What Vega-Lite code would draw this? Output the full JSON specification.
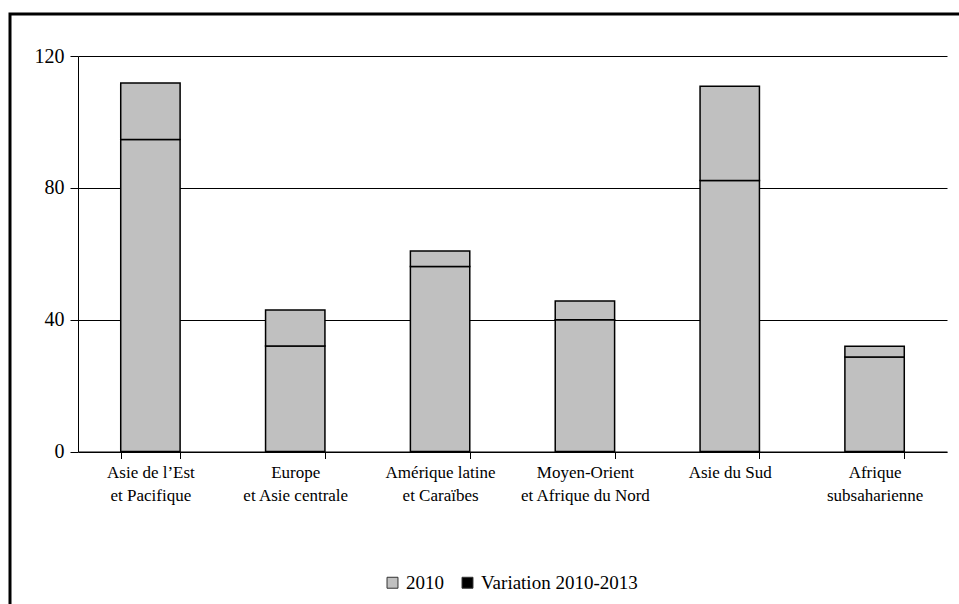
{
  "$schema": "https://vega.github.io/schema/vega-lite/v6.json",
  "autosize": "none",
  "padding": {"left": 10, "top": 14, "right": -3, "bottom": -3},
  "width": 952,
  "height": 593,
  "background": "#ffffff",
  "config": {
    "view": {"stroke": "#000000", "strokeWidth": 3},
    "font": "Times New Roman, Liberation Serif, DejaVu Serif, serif",
    "axis": {
      "domainColor": "#000000",
      "domainWidth": 1,
      "tickColor": "#000000",
      "tickWidth": 1,
      "gridColor": "#000000",
      "gridWidth": 1,
      "gridOpacity": 1,
      "labelColor": "#000000",
      "labelFont": "Times New Roman, Liberation Serif, DejaVu Serif, serif",
      "title": null
    },
    "legend": {
      "labelFont": "Times New Roman, Liberation Serif, DejaVu Serif, serif"
    }
  },
  "data": {
    "values": [
      {"region": "Asie de l’Est\net Pacifique", "serie": "2010", "valeur": 94.7},
      {"region": "Asie de l’Est\net Pacifique", "serie": "Variation 2010-2013", "valeur": 17.1},
      {"region": "Europe\net Asie centrale", "serie": "2010", "valeur": 32.0},
      {"region": "Europe\net Asie centrale", "serie": "Variation 2010-2013", "valeur": 10.9},
      {"region": "Amérique latine\net Caraïbes", "serie": "2010", "valeur": 56.1},
      {"region": "Amérique latine\net Caraïbes", "serie": "Variation 2010-2013", "valeur": 4.7},
      {"region": "Moyen-Orient\net Afrique du Nord", "serie": "2010", "valeur": 40.0},
      {"region": "Moyen-Orient\net Afrique du Nord", "serie": "Variation 2010-2013", "valeur": 5.7},
      {"region": "Asie du Sud", "serie": "2010", "valeur": 82.2},
      {"region": "Asie du Sud", "serie": "Variation 2010-2013", "valeur": 28.6},
      {"region": "Afrique\nsubsaharienne", "serie": "2010", "valeur": 28.7},
      {"region": "Afrique\nsubsaharienne", "serie": "Variation 2010-2013", "valeur": 3.2}
    ]
  },
  "encoding": {
    "x": {
      "field": "region",
      "type": "nominal",
      "sort": null,
      "scale": {"range": [68, 937], "paddingInner": 0.59, "paddingOuter": 0.295},
      "axis": {
        "orient": "bottom",
        "offset": -155.5,
        "tickBand": "extent",
        "tickSize": 7,
        "labelAngle": 0,
        "labelPadding": 6,
        "labelFontSize": 17,
        "labelLineHeight": 23,
        "labelBaseline": "top",
        "labelExpr": "datum.value ? split(datum.value, '\\n') : ''",
        "grid": false
      }
    },
    "y": {
      "field": "valeur",
      "type": "quantitative",
      "scale": {"domain": [0, 120], "range": [437.5, 42], "nice": false},
      "axis": {
        "orient": "left",
        "offset": -68,
        "values": [0, 40, 80, 120],
        "tickSize": 8,
        "labelPadding": 6,
        "labelFontSize": 20,
        "labelDy": 4,
        "grid": true
      }
    }
  },
  "layer": [
    {
      "mark": {"type": "bar", "fill": "#c0c0c0", "stroke": "#000000", "strokeWidth": 1.5},
      "encoding": {
        "detail": {"field": "serie"},
        "order": {"field": "serie", "sort": "ascending"}
      }
    },
    {
      "mark": {"type": "square", "filled": true, "opacity": 0},
      "encoding": {
        "color": {
          "field": "serie",
          "type": "nominal",
          "scale": {"domain": ["2010", "Variation 2010-2013"], "range": ["#c0c0c0", "#000000"]},
          "legend": {
            "title": null,
            "orient": "none",
            "direction": "horizontal",
            "legendX": 373,
            "legendY": 559,
            "symbolType": "square",
            "symbolSize": 120,
            "symbolOpacity": 1,
            "symbolStrokeColor": "#333333",
            "symbolStrokeWidth": 1,
            "labelFontSize": 19,
            "labelColor": "#000000",
            "labelOffset": 4,
            "columnPadding": 14
          }
        }
      }
    }
  ]
}
